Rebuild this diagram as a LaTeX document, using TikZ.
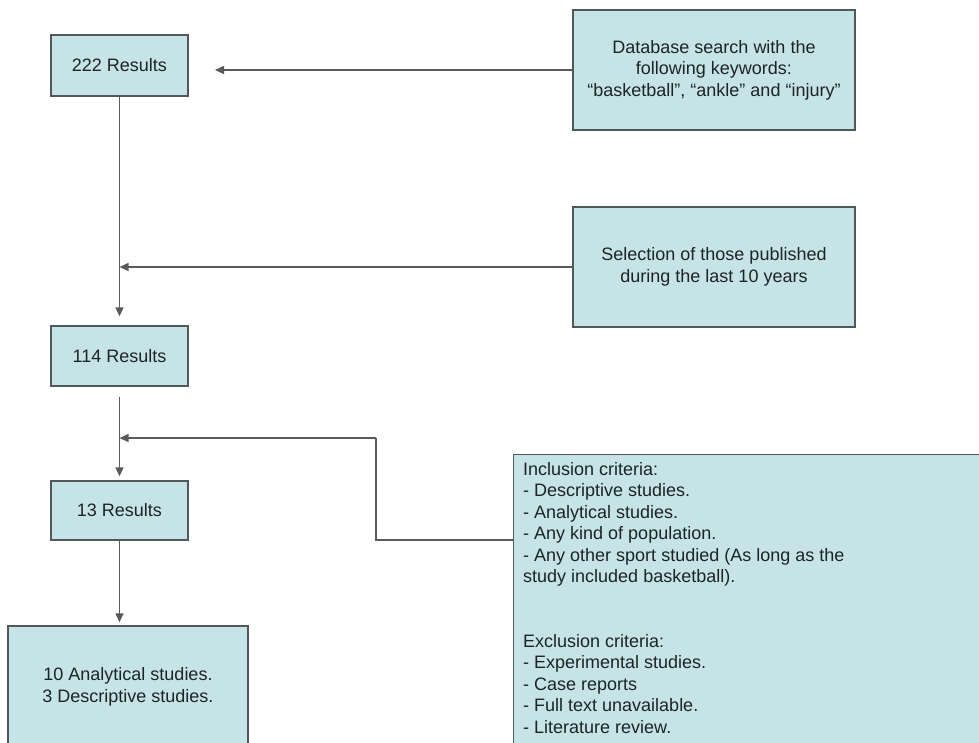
\documentclass[tikz,border=0pt]{standalone}
\usepackage{fontspec}
\setmainfont{Liberation Sans}
\usetikzlibrary{arrows.meta,calc}
\definecolor{boxfill}{RGB}{198,228,232}
\definecolor{boxline}{RGB}{80,88,90}
\definecolor{conn}{RGB}{90,90,90}
\definecolor{txt}{RGB}{28,36,38}
\tikzset{
  txtfont/.style={text=txt, font=\fontsize{18}{21.5}\selectfont},
  box/.style={draw=boxline, fill=boxfill, line width=1.4pt, txtfont,
    align=center, inner sep=0pt},
  arr/.style={draw=conn, line width=1.4pt, -{Triangle[length=9pt,width=8pt]}},
  ln/.style={draw=conn, line width=1.4pt}
}
\begin{document}
\begin{tikzpicture}[x=1pt,y=-1pt]
\useasboundingbox (0,0) rectangle (979,742);
\clip (0,0) rectangle (979,742);
\fill[white] (0,0) rectangle (979,742);
\node[box, minimum width=137pt, minimum height=61pt] (r222) at (119.5,65.5) {222 Results};
\node[box, minimum width=282pt, minimum height=120pt] (db) at (714,70) {Database search with the\\following keywords:\\“basketball”, “ankle” and “injury”};
\node[box, minimum width=282pt, minimum height=120pt] (sel) at (714,267) {Selection of those published\\during the last 10 years};
\node[box, minimum width=137pt, minimum height=60pt] (r114) at (119.5,356) {114 Results};
\node[box, minimum width=137pt, minimum height=59pt] (r13) at (119.5,510.5) {13 Results};
\node[box, minimum width=240pt, minimum height=122pt] (fin) at (128,687) {10 Analytical studies.\\3 Descriptive studies.};
\node[box, anchor=north west, minimum width=490pt, minimum height=320pt] (incl) at (513,454) {};
\node[txtfont, anchor=north west, align=left, inner sep=0pt] (incltxt) at ([shift={(10,8)}]incl.north west) {Inclusion criteria:\\- Descriptive studies.\\- Analytical studies.\\- Any kind of population.\\- Any other sport studied (As long as the\\study included basketball).\\[43pt]Exclusion criteria:\\- Experimental studies.\\- Case reports\\- Full text unavailable.\\- Literature review.};
\coordinate (tip1) at (215,70);
\coordinate (inclin) at (513,540);
\coordinate (bend) at (376,540);
\coordinate (bendtop) at (376,438);
\draw[arr] (db.west) -- (tip1);
\draw[arr, shorten >=9pt] (r222.south) -- (r114.north);
\draw[arr] (sel.west) -- (sel.west -| r114.north);
\draw[arr, shorten <=10pt, shorten >=4pt] (r114.south) -- (r13.north);
\draw[ln] (inclin) -- (bend) -- (bendtop);
\draw[arr] (bendtop) -- (bendtop -| r13.north);
\draw[arr, shorten >=3pt] (r13.south) -- (r13.south |- fin.north);
\end{tikzpicture}
\end{document}
